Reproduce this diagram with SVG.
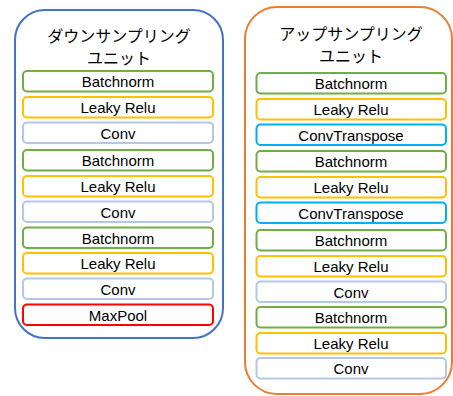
<svg xmlns="http://www.w3.org/2000/svg" width="453" height="396" viewBox="0 0 453 396">
<style>
.cont{fill:#fff;stroke-width:2}
.box{fill:#fff;stroke-width:2}
.g{stroke:#70AD47}.y{stroke:#FFC000}.lb{stroke:#B4C7E7}.c{stroke:#00B0F0}.r{stroke:#FF0000}
.t{font-family:"Liberation Sans",Arial,sans-serif;font-size:15px;fill:#000;text-anchor:middle}
.h{font-family:"Noto Sans CJK JP","Noto Sans CJK SC",sans-serif;font-size:16px;fill:#000;text-anchor:middle}
</style>
<rect width="453" height="396" fill="#fff"/>
<g id="down-unit">
<rect class="cont" x="15" y="10" width="208" height="328" rx="30" stroke="#4472C4"/>
<text class="h" x="119" y="42">ダウンサンプリング</text>
<text class="h" x="119" y="64">ユニット</text>
</g>
<g id="down-1"><rect class="box g" x="23" y="71" width="190" height="20.5" rx="4"/><text class="t" x="118" y="87">Batchnorm</text></g>
<g id="down-2"><rect class="box y" x="23" y="97" width="190" height="20.5" rx="4"/><text class="t" x="118" y="113">Leaky Relu</text></g>
<g id="down-3"><rect class="box lb" x="23" y="122.5" width="190" height="20.5" rx="4"/><text class="t" x="118" y="138.5">Conv</text></g>
<g id="down-4"><rect class="box g" x="23" y="150" width="190" height="20.5" rx="4"/><text class="t" x="118" y="166">Batchnorm</text></g>
<g id="down-5"><rect class="box y" x="23" y="176" width="190" height="20.5" rx="4"/><text class="t" x="118" y="192">Leaky Relu</text></g>
<g id="down-6"><rect class="box lb" x="23" y="201.5" width="190" height="20.5" rx="4"/><text class="t" x="118" y="217.5">Conv</text></g>
<g id="down-7"><rect class="box g" x="23" y="227.5" width="190" height="20.5" rx="4"/><text class="t" x="118" y="243.5">Batchnorm</text></g>
<g id="down-8"><rect class="box y" x="23" y="253" width="190" height="20.5" rx="4"/><text class="t" x="118" y="269">Leaky Relu</text></g>
<g id="down-9"><rect class="box lb" x="23" y="278.5" width="190" height="20.5" rx="4"/><text class="t" x="118" y="294.5">Conv</text></g>
<g id="down-10"><rect class="box r" x="23" y="304.5" width="190" height="20.5" rx="4"/><text class="t" x="118" y="320.5">MaxPool</text></g>
<g id="up-unit">
<rect class="cont" x="245" y="7" width="207" height="387" rx="32" stroke="#ED7D31"/>
<text class="h" x="351" y="40">アップサンプリング</text>
<text class="h" x="351" y="62">ユニット</text>
</g>
<g id="up-1"><rect class="box g" x="256.5" y="73" width="189.5" height="20.5" rx="4"/><text class="t" x="351" y="89">Batchnorm</text></g>
<g id="up-2"><rect class="box y" x="256.5" y="99" width="189.5" height="20.5" rx="4"/><text class="t" x="351" y="115">Leaky Relu</text></g>
<g id="up-3"><rect class="box c" x="256.5" y="124.5" width="189.5" height="20.5" rx="4"/><text class="t" x="351" y="140.5">ConvTranspose</text></g>
<g id="up-4"><rect class="box g" x="256.5" y="151" width="189.5" height="20.5" rx="4"/><text class="t" x="351" y="167">Batchnorm</text></g>
<g id="up-5"><rect class="box y" x="256.5" y="177" width="189.5" height="20.5" rx="4"/><text class="t" x="351" y="193">Leaky Relu</text></g>
<g id="up-6"><rect class="box c" x="256.5" y="202.5" width="189.5" height="20.5" rx="4"/><text class="t" x="351" y="218.5">ConvTranspose</text></g>
<g id="up-7"><rect class="box g" x="256.5" y="230" width="189.5" height="20.5" rx="4"/><text class="t" x="351" y="246">Batchnorm</text></g>
<g id="up-8"><rect class="box y" x="256.5" y="256" width="189.5" height="20.5" rx="4"/><text class="t" x="351" y="272">Leaky Relu</text></g>
<g id="up-9"><rect class="box lb" x="256.5" y="281.5" width="189.5" height="20.5" rx="4"/><text class="t" x="351" y="297.5">Conv</text></g>
<g id="up-10"><rect class="box g" x="256.5" y="307" width="189.5" height="20.5" rx="4"/><text class="t" x="351" y="323">Batchnorm</text></g>
<g id="up-11"><rect class="box y" x="256.5" y="333" width="189.5" height="20.5" rx="4"/><text class="t" x="351" y="349">Leaky Relu</text></g>
<g id="up-12"><rect class="box lb" x="256.5" y="358" width="189.5" height="20.5" rx="4"/><text class="t" x="351" y="374">Conv</text></g>
<g id="connectors"></g>
</svg>
